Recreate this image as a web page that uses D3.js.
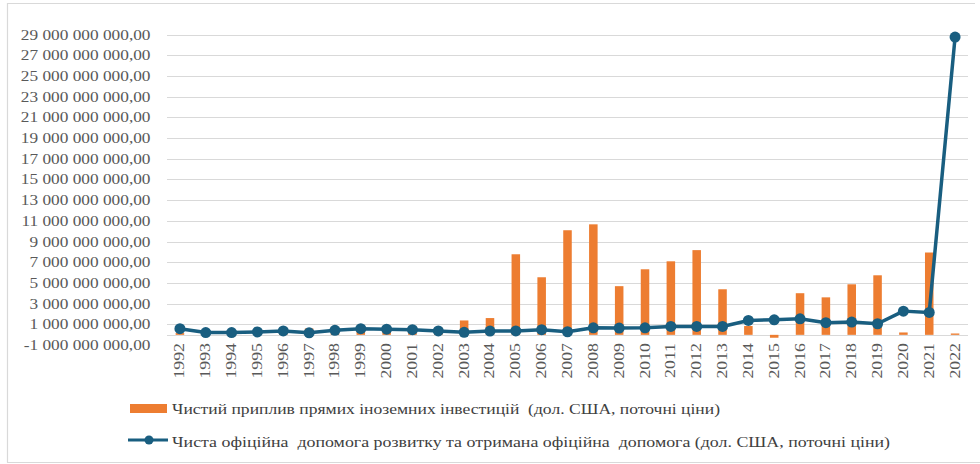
<!DOCTYPE html>
<html><head><meta charset="utf-8">
<script src="https://cdn.jsdelivr.net/npm/d3@7"></script>
<style>body{margin:0;background:#fff}svg{display:block}</style>
</head><body><svg id="c" width="980" height="464" font-family="Liberation Serif, DejaVu Serif, serif"></svg>
<script>
const years = ["1992","1993","1994","1995","1996","1997","1998","1999","2000","2001","2002","2003","2004","2005","2006","2007","2008","2009","2010","2011","2012","2013","2014","2015","2016","2017","2018","2019","2020","2021","2022"];
const fdi = [0.17e9,0.2e9,0.16e9,0.27e9,0.52e9,0.62e9,0.74e9,0.5e9,0.59e9,0.79e9,0.69e9,1.39e9,1.62e9,7.78e9,5.56e9,10.1e9,10.67e9,4.7e9,6.33e9,7.1e9,8.18e9,4.4e9,0.85e9,-0.28e9,4.02e9,3.62e9,4.88e9,5.75e9,0.23e9,7.95e9,0.13e9];
const oda = [0.59e9,0.22e9,0.22e9,0.28e9,0.38e9,0.2e9,0.44e9,0.6e9,0.55e9,0.5e9,0.38e9,0.24e9,0.36e9,0.38e9,0.5e9,0.3e9,0.68e9,0.65e9,0.68e9,0.81e9,0.81e9,0.81e9,1.39e9,1.45e9,1.55e9,1.17e9,1.23e9,1.07e9,2.29e9,2.16e9,28.75e9];
const yTicks = [-1e9,1e9,3e9,5e9,7e9,9e9,11e9,13e9,15e9,17e9,19e9,21e9,23e9,25e9,27e9,29e9];
const legendLabels = ["Чистий приплив прямих іноземних інвестицій  (дол. США, поточні ціни)","Чиста офіційна  допомога розвитку та отримана офіційна  допомога (дол. США, поточні ціни)"];

const svg = d3.select("#c");
const x = d3.scaleBand().domain(years).range([167,968]).paddingInner(0.67).paddingOuter(0.335);
const xc = d => x(d) + x.bandwidth()/2;
const y = d3.scaleLinear().domain([-1e9,29e9]).range([345.2,34.5]);

// border
svg.append("path").attr("d","M7.5,462.5V3.5H975").attr("fill","none").attr("stroke","#d9d9d9").attr("stroke-width",1.2);
svg.append("line").attr("x1",7).attr("x2",980).attr("y1",462.5).attr("y2",462.5).attr("stroke","#d9d9d9").attr("stroke-width",1.2);

// gridlines
svg.append("g").selectAll("line").data(yTicks.filter(t=>t>0).concat([0])).join("line")
  .attr("x1",167).attr("x2",968).attr("y1",d=>Math.round(y(d))+0.5).attr("y2",d=>Math.round(y(d))+0.5)
  .attr("stroke","#d9d9d9").attr("stroke-width",1);

// y labels
const fmt = v => d3.format(",.2f")(v).replace(/,/g," ").replace(".",",").replace("−","-");
svg.append("g").selectAll("text").data(yTicks).join("text")
  .attr("transform",d=>`translate(150.5,${y(d)+5}) scale(1.21,1)`)
  .attr("text-anchor","end").attr("font-size",14.3).attr("fill","#595959").text(fmt);

// x labels
svg.append("g").selectAll("text").data(years).join("text")
  .attr("transform",d=>`translate(${xc(d)+4.5},343) rotate(-90) scale(1.27,1)`)
  .attr("text-anchor","end").attr("font-size",14).attr("fill","#595959").text(d=>d);

// bars
svg.append("g").selectAll("rect").data(years).join("rect")
  .attr("x",d=>x(d)).attr("width",x.bandwidth())
  .attr("y",(d,i)=>y(Math.max(0,fdi[i]))).attr("height",(d,i)=>Math.abs(y(fdi[i])-y(0)))
  .attr("fill","#ED7D31");

// line
const lineColor = "#195E80";
svg.append("path").datum(years).attr("fill","none").attr("stroke",lineColor).attr("stroke-width",3.5).attr("stroke-linejoin","round")
  .attr("d",d3.line().x(d=>xc(d)).y((d,i)=>y(oda[i])));
svg.append("g").selectAll("circle").data(years).join("circle")
  .attr("cx",d=>xc(d)).attr("cy",(d,i)=>y(oda[i])).attr("r",5.5).attr("fill",lineColor);

// legend
const lg = svg.append("g");
lg.append("rect").attr("x",130).attr("y",404).attr("width",37).attr("height",9).attr("fill","#ED7D31");
lg.append("line").attr("x1",128).attr("x2",168).attr("y1",440).attr("y2",440).attr("stroke",lineColor).attr("stroke-width",3);
lg.append("circle").attr("cx",149).attr("cy",440).attr("r",4.5).attr("fill",lineColor);
lg.append("text").attr("x",172).attr("y",413.5).attr("font-size",14.5).attr("fill","#404040").style("white-space","pre")
  .attr("textLength",548).attr("lengthAdjust","spacingAndGlyphs").text(legendLabels[0]);
lg.append("text").attr("x",172).attr("y",446.5).attr("font-size",14.5).attr("fill","#404040").style("white-space","pre")
  .attr("textLength",718).attr("lengthAdjust","spacingAndGlyphs").text(legendLabels[1]);
</script></body></html>
